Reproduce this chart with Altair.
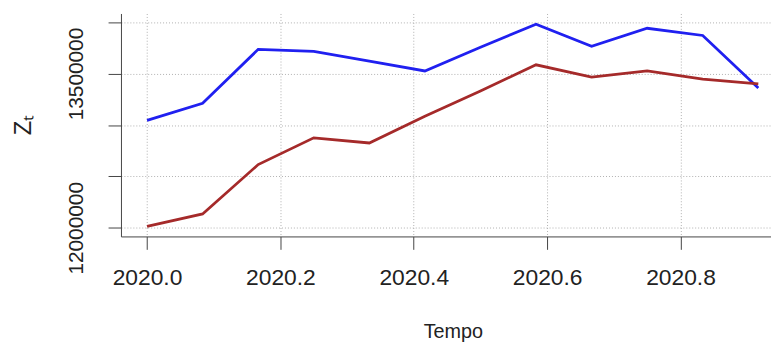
import altair as alt
import pandas as pd

months = list(range(12))
tempo = [2020 + m / 12 for m in months]
serie_blu = [13045000, 13210000, 13735000, 13715000, 13620000, 13525000,
             13755000, 13980000, 13765000, 13940000, 13870000, 13360000]
serie_rossa = [12015000, 12135000, 12615000, 12875000, 12825000, 13085000,
               13330000, 13585000, 13465000, 13525000, 13445000, 13400000]

x_ticks = [2020.0, 2020.2, 2020.4, 2020.6, 2020.8]
y_ticks = [12000000, 12500000, 13000000, 13500000, 14000000]
y_labelled = [12000000, 13500000]

rows = []
for t, b, r in zip(tempo, serie_blu, serie_rossa):
    rows.append({"Tempo": t, "Z": b, "serie": "blu"})
    rows.append({"Tempo": t, "Z": r, "serie": "rossa"})
df = pd.DataFrame(rows)

FONT = "Liberation Sans"
TXT = "#222222"

x_enc = alt.X(
    "Tempo:Q",
    scale=alt.Scale(domain=[2019.9609, 2020.9357], nice=False, zero=False),
    axis=alt.Axis(
        values=x_ticks, format=".1f", title="Tempo",
        labelFont=FONT, labelFontSize=23, labelColor=TXT, labelPadding=18,
        labelFlush=False, labelOverlap=False,
        tickSize=13, tickColor="#444444", domainColor="#444444",
        grid=True, gridDash=[1, 2], gridColor="#b0b0b0",
        titleFont=FONT, titleFontSize=20, titleFontWeight="normal", titleColor=TXT,
        titleX=335, titleY=96, titleBaseline="middle", titleAlign="center",
    ),
)

label_expr = " || ".join(f"datum.value == {v}" for v in y_labelled)
y_enc = alt.Y(
    "Z:Q",
    scale=alt.Scale(domain=[11916200, 14083800], nice=False, zero=False),
    axis=alt.Axis(
        values=y_ticks, format="d", title="Zₜ",
        labelExpr=f"({label_expr}) ? datum.label : ''",
        labelAngle=-90, labelAlign="center", labelBaseline="bottom",
        labelFont=FONT, labelFontSize=21, labelColor=TXT, labelPadding=22,
        labelFlush=False, labelOverlap=False,
        tickSize=13, tickColor="#444444", domainColor="#444444",
        grid=True, gridDash=[1, 2], gridColor="#b0b0b0",
        titleFont=FONT, titleFontSize=24, titleFontWeight="normal", titleColor=TXT,
        titleX=-98, titleY=112, titleBaseline="middle", titleAlign="center", titleAngle=-90,
    ),
)

chart = (
    alt.Chart(df)
    .mark_line(strokeWidth=2.8, clip=True)
    .encode(
        x=x_enc,
        y=y_enc,
        color=alt.Color("serie:N", scale=alt.Scale(domain=["blu", "rossa"],
                                                   range=["#2020f0", "#a52a2a"]),
                        legend=None),
    )
    .properties(width=656, height=225,
                padding={"left": 114, "top": 4, "right": 0, "bottom": 106},
                autosize=alt.AutoSizeParams(type="none"))
    .configure_view(stroke=None)
)

chart.save("out.html", embed_options={"renderer": "svg", "actions": False})
